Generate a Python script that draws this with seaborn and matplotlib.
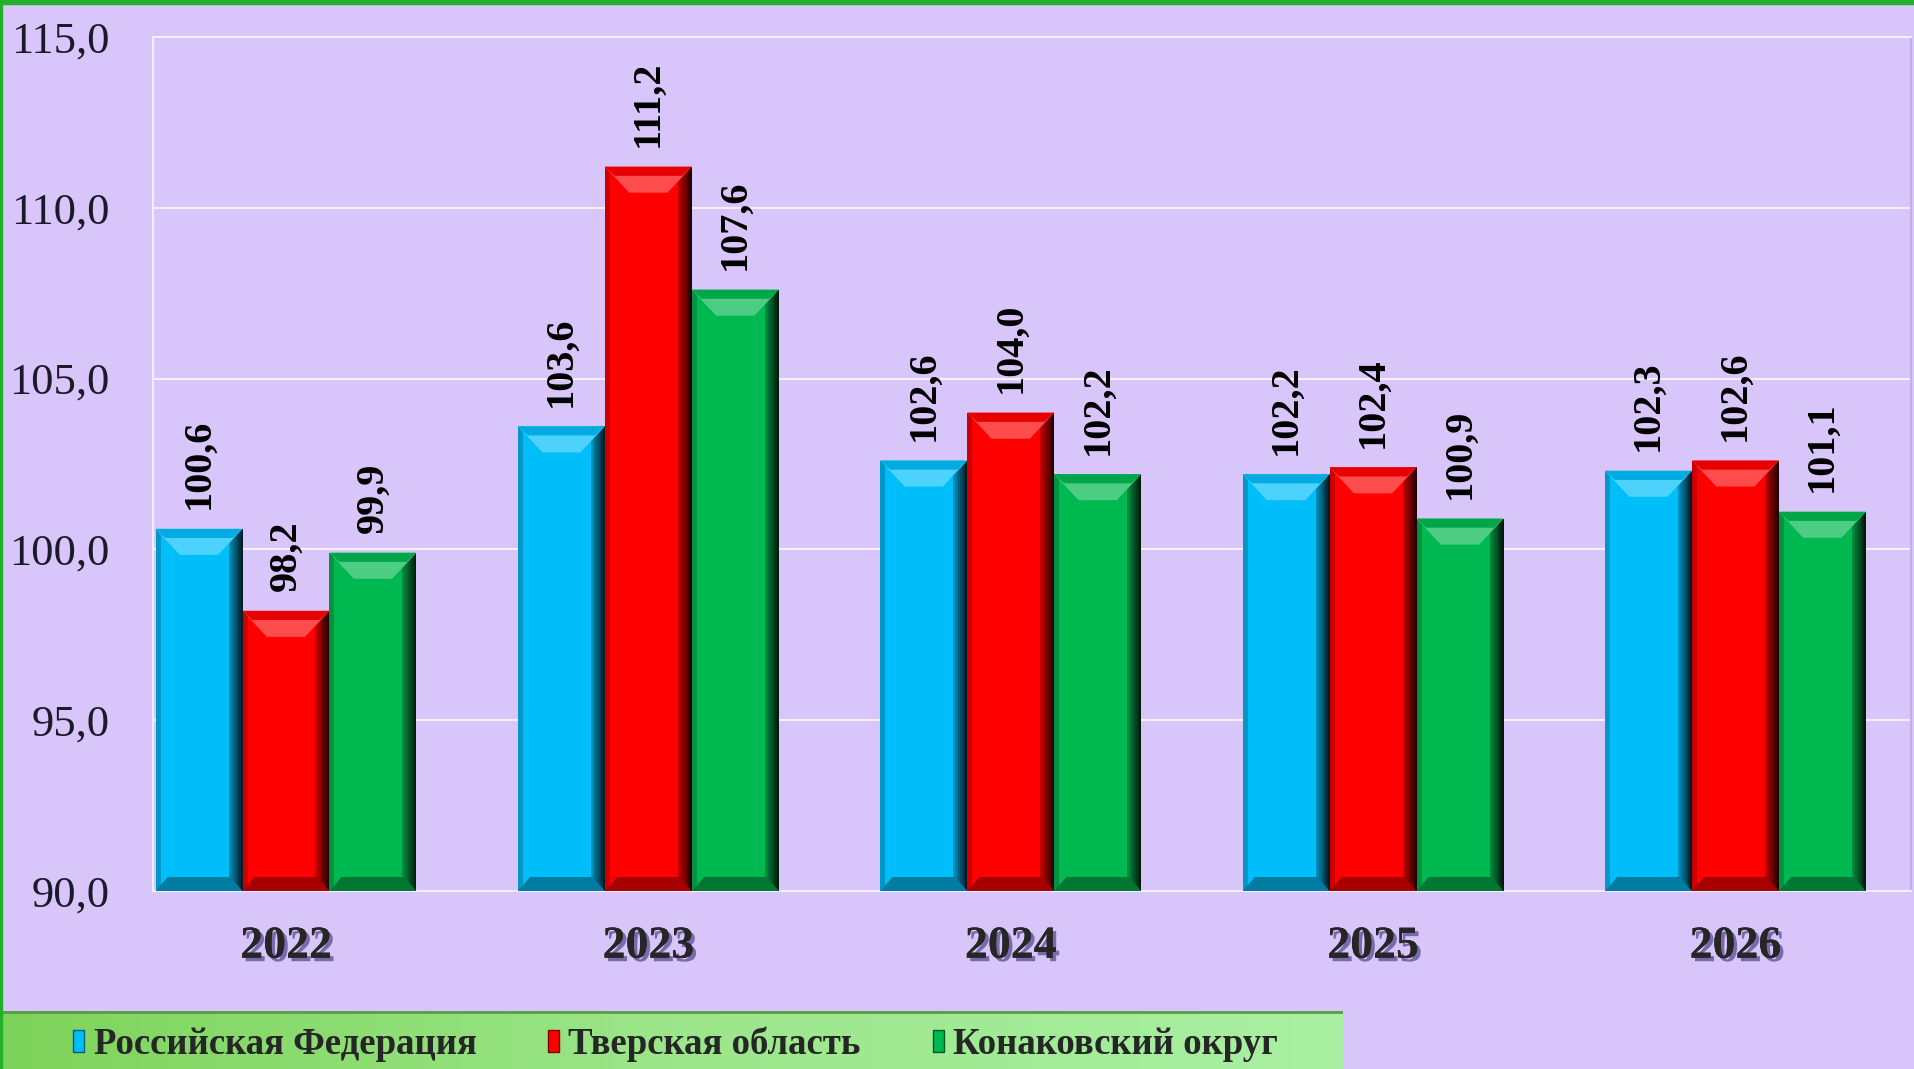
import numpy as np
import pandas as pd
import matplotlib
matplotlib.use("Agg")
import matplotlib.pyplot as plt
import matplotlib.patheffects as pe
from matplotlib.patches import Patch, Rectangle
from matplotlib.colors import LinearSegmentedColormap, to_rgb
import seaborn as sns

# Данные
years = ["2022", "2023", "2024", "2025", "2026"]
series = ["Российская Федерация", "Тверская область", "Конаковский округ"]
rf_values = [100.6, 103.6, 102.6, 102.2, 102.3]
tver_values = [98.2, 111.2, 104.0, 102.4, 102.6]
konakovo_values = [99.9, 107.6, 102.2, 100.9, 101.1]
y_ticks = [90, 95, 100, 105, 110, 115]

colors = ["#00BEFA", "#FF0000", "#00B850"]
bg = "#D8C6FA"

df = pd.DataFrame({
    "Год": years * 3,
    "Серия": [s for s in series for _ in years],
    "Значение": rf_values + tver_values + konakovo_values,
})


def mix(c, other, t):
    c = np.array(to_rgb(c))
    o = np.array(to_rgb(other))
    return tuple(c * (1 - t) + o * t)


def bevel(ax, bar, color, ymin):
    # имитация объёмных столбиков как в Excel
    x0 = bar.get_x()
    w = bar.get_width()
    x1 = x0 + w
    top = bar.get_height()
    px_x = 1 / 362.5
    px_y = 25 / 854
    # правая тёмная грань
    n = 8
    sw = 14 * px_x
    for i in range(n):
        t = (i + 1) / n
        ax.fill([x1 - sw + i * sw / n, x1 - sw + (i + 1) * sw / n,
                 x1 - sw + (i + 1) * sw / n, x1 - sw + i * sw / n],
                [ymin, ymin, top, top], color=mix(color, "black", 0.15 + 0.7 * t),
                linewidth=0, zorder=3)
    # левая грань
    ax.fill([x0, x0 + 5 * px_x, x0 + 5 * px_x, x0], [ymin, ymin, top, top],
            color=mix(color, "black", 0.2), linewidth=0, zorder=3)
    # верхняя фаска
    dy = 26 * px_y
    dx = 0.28 * w
    ax.fill([x0, x1, x1 - dx, x0 + dx], [top, top, top - dy, top - dy],
            color=mix(color, "white", 0.3), linewidth=0, zorder=4)
    ax.fill([x0, x1, x1 - dx * 0.4, x0 + dx * 0.4], [top, top, top - dy * 0.35, top - dy * 0.35],
            color=mix(color, "black", 0.1), linewidth=0, zorder=4)
    # нижняя фаска
    dyb = 14 * px_y
    ax.fill([x0, x1, x1 - dx * 0.5, x0 + dx * 0.5], [ymin, ymin, ymin + dyb, ymin + dyb],
            color=mix(color, "black", 0.35), linewidth=0, zorder=4)


sns.set_theme(style="white")
plt.rcParams['font.family'] = ['Liberation Serif', 'DejaVu Serif']

fig = plt.figure(figsize=(19.15, 10.69), dpi=100, facecolor=bg)
ax = fig.add_axes([0.0799, 0.1665, 0.9181, 0.799])
ax.set_facecolor(bg)

sns.barplot(data=df, x="Год", y="Значение", hue="Серия", hue_order=series,
            palette=colors, width=0.72, ax=ax, legend=False, saturation=1,
            linewidth=0)

ax.set_ylim(90, 115)
ax.set_xlim(-0.367, 4.485)

for cont, col in zip(ax.containers, colors):
    for bar in cont:
        bar.set_linewidth(0)
        bevel(ax, bar, col, 90)
    vals = [b.get_height() for b in cont]
    ax.bar_label(cont, labels=[f"{v:.1f}".replace(".", ",") for v in vals],
                 rotation=90, padding=14, fontsize=29, fontweight="bold", color="black")

ax.set_yticks(y_ticks)
ax.set_yticklabels([f"{t:.1f}".replace(".", ",") for t in y_ticks])
ax.tick_params(axis="y", labelsize=32, pad=31, length=0, labelcolor="#1a1a2a")
ax.tick_params(axis="x", labelsize=33, pad=25, length=0)
for lab in ax.get_xticklabels():
    lab.set_fontweight("bold")
    lab.set_path_effects([pe.withSimplePatchShadow(offset=(2.5, -2.5), shadow_rgbFace="#2a1f6a", alpha=0.55),
                          pe.Normal()])
ax.set_xlabel("")
ax.set_ylabel("")
ax.yaxis.grid(True, color="white", linewidth=1.5, alpha=0.75)
ax.set_axisbelow(True)
for side, sp in ax.spines.items():
    sp.set_color("#f2ecff")
    sp.set_linewidth(1.5)
ax.spines["right"].set_color("#c0aee6")

# Зелёная рамка сверху и слева
fig.patches.append(Rectangle((0, 1 - 4 / 1069), 1, 4 / 1069, transform=fig.transFigure,
                             color="#22B02A", zorder=5))
fig.patches.append(Rectangle((0, 0), 2.5 / 1915, 1, transform=fig.transFigure,
                             color="#22B02A", zorder=5))

# Фон легенды (градиент)
lax = fig.add_axes([0, 0, 1343 / 1915, 58 / 1069])
grad = np.linspace(0, 1, 256).reshape(1, -1)
cmap = LinearSegmentedColormap.from_list("g", ["#7ED35A", "#9BE68A", "#A9F0A2"])
lax.imshow(grad, aspect="auto", cmap=cmap, extent=[0, 1, 0, 1])
lax.set_axis_off()
lax.plot([0, 1], [0.98, 0.98], color="#5a9a48", linewidth=2, transform=lax.transAxes)

handles = [Patch(facecolor=c, edgecolor=mix(c, "black", 0.5), linewidth=1) for c in colors]
leg = fig.legend(handles, series, loc="center left", bbox_to_anchor=(0.021, 0.0234),
                 frameon=False, ncol=3, handlelength=0.3, handleheight=0.55,
                 handletextpad=0.25, columnspacing=1.95,
                 prop={"family": "Liberation Serif", "weight": "bold", "size": 26.5})
leg.set_zorder(10)

fig.savefig("out.png", dpi=100, facecolor=bg)
